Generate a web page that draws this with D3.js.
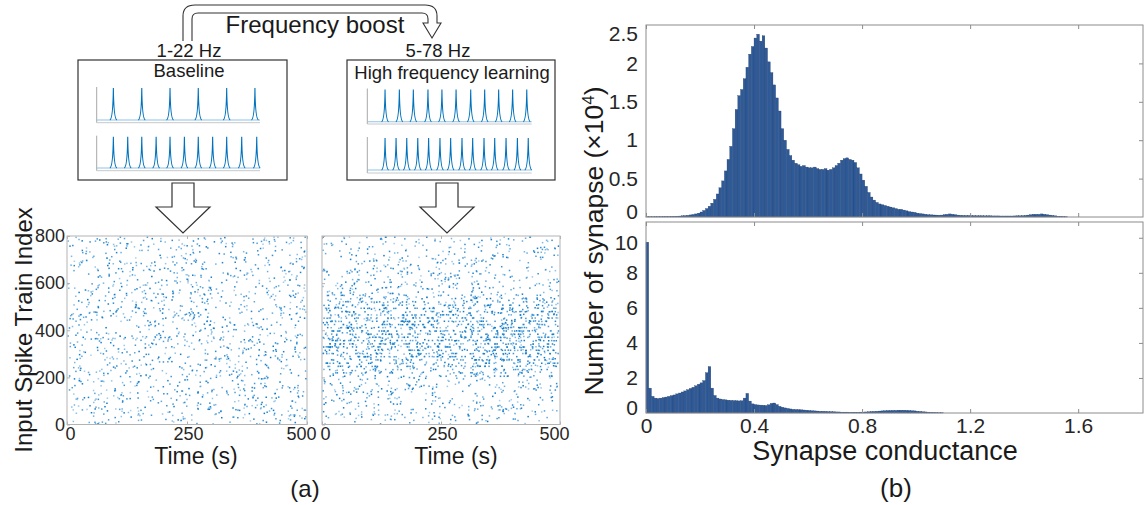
<!DOCTYPE html>
<html><head><meta charset="utf-8">
<script src="https://cdn.jsdelivr.net/npm/d3@7"></script>
<style>body{margin:0;background:#fff}svg{display:block}</style>
</head><body>
<svg id="c" width="1147" height="505"></svg>
<script>
// ---------------- DATA ----------------
// mini spike-train traces (spike times in ms within a 1000 ms window)
const baselineTopSpikes = [102, 276, 449, 622, 796, 969];
const baselineBottomSpikes = [102, 190, 276, 364, 449, 537, 622, 710, 796, 888, 980];
const highTopSpikes = [108, 195, 280, 369, 454, 540, 629, 714, 799, 884, 970];
const highBottomSpikes = [108, 175, 240, 307, 373, 442, 507, 576, 641, 710, 775, 844, 913, 979];

const baselineBandCounts = [165, 170, 180, 190, 195, 180, 170, 155];            // bands of 100 indices
const highFreqBandCounts = [75, 80, 85, 95, 95, 100, 105, 110, 110, 110, 105, 100, 95, 80, 75, 70]; // bands of 50
const highFreqHotRows = [205, 219, 233, 247, 260, 274, 288, 301, 315, 329, 342, 356, 370, 383, 397, 411, 424, 438, 452, 465, 479, 493, 506, 520, 534, 548];
const highFreqHotRowSpikes = [18, 22, 26, 30, 34, 36, 40, 42, 44, 46, 46, 46, 46, 46, 46, 44, 44, 42, 40, 38, 34, 30, 26, 22, 18, 14];
const rasterYTicks = [0, 200, 400, 600, 800];
const rasterXTicks = [0, 250, 500];

// histograms, bin width 0.01 starting at 0 (units x10^4)
const histBinWidth = 0.01;
const topCounts = [
 0.003,0.003,0.002,0.003,0.004,0.005,0.005,0.006,0.006,0.007,
 0.008,0.010,0.012,0.015,0.018,0.022,0.027,0.033,0.040,0.050,
 0.065,0.085,0.110,0.140,0.180,0.230,0.300,0.380,0.470,0.600,
 0.750,0.920,1.150,1.400,1.580,1.660,1.800,1.950,2.120,2.220,
 2.330,2.380,2.290,2.360,2.200,2.020,1.880,1.720,1.550,1.380,
 1.150,1.000,0.880,0.800,0.740,0.700,0.680,0.660,0.670,0.650,
 0.640,0.640,0.650,0.630,0.620,0.620,0.630,0.610,0.620,0.640,
 0.670,0.700,0.740,0.760,0.770,0.750,0.740,0.710,0.640,0.560,
 0.480,0.400,0.320,0.260,0.220,0.190,0.170,0.160,0.150,0.140,
 0.130,0.120,0.110,0.100,0.100,0.090,0.080,0.070,0.065,0.060,
 0.050,0.045,0.040,0.035,0.030,0.028,0.026,0.025,0.024,0.025,
 0.030,0.035,0.040,0.035,0.030,0.025,0.022,0.020,0.020,0.020,
 0.018,0.018,0.017,0.016,0.016,0.015,0.015,0.015,0.014,0.014,
 0.014,0.013,0.013,0.013,0.013,0.013,0.014,0.015,0.016,0.018,
 0.020,0.025,0.030,0.035,0.035,0.035,0.040,0.035,0.030,0.025,
 0.020,0.015,0.010,0.008,0.005,0.003
];
const bottomCounts = [
 9.75,1.42,0.95,0.85,0.83,0.85,0.88,0.91,0.95,0.99,
 1.03,1.09,1.14,1.20,1.26,1.33,1.40,1.47,1.55,1.64,
 1.72,1.85,2.30,2.65,1.42,1.00,0.85,0.80,0.77,0.75,
 0.73,0.72,0.71,0.70,0.69,0.70,0.85,1.12,0.68,0.52,
 0.48,0.46,0.45,0.44,0.43,0.47,0.55,0.57,0.48,0.38,
 0.33,0.29,0.26,0.23,0.21,0.20,0.19,0.18,0.17,0.16,
 0.14,0.13,0.12,0.11,0.10,0.10,0.09,0.08,0.08,0.07,
 0.06,0.06,0.05,0.05,0.05,0.04,0.04,0.04,0.04,0.05,
 0.05,0.06,0.07,0.08,0.09,0.10,0.11,0.12,0.13,0.14,
 0.14,0.15,0.15,0.16,0.16,0.16,0.15,0.14,0.13,0.12,
 0.10,0.09,0.07,0.06,0.05,0.04,0.03,0.02,0.01,0.01
];
const condTicks = [0, 0.4, 0.8, 1.2, 1.6];
const topYTicks = [0, 0.5, 1, 1.5, 2, 2.5];
const bottomYTicks = [0, 2, 4, 6, 8, 10];

// ---------------- DRAWING ----------------
const FONT = "'Liberation Sans', Arial, Helvetica, sans-serif";
const TXT = "#1a1a1a";
const svg = d3.select("#c").style("font-family", FONT);

// deterministic scatter of the individual raster dots (integer hash, fixed output)
function scatter(n, salt) {
  let h = Math.imul(n ^ 0x9e3779b9, 0x85ebca6b) ^ Math.imul(salt + 1, 0x27d4eb2f);
  h ^= h >>> 13; h = Math.imul(h, 0xc2b2ae35); h ^= h >>> 16;
  h = Math.imul(h ^ (h >>> 15), 0x2c1b3c6d); h ^= h >>> 12;
  return (h >>> 0) / 4294967296;
}

// ---- Frequency boost arrow ----
const arrow = d3.path();
arrow.moveTo(183, 41); arrow.lineTo(183, 16); arrow.quadraticCurveTo(183, 5, 195, 5);
arrow.lineTo(425, 5); arrow.quadraticCurveTo(437, 5, 437, 16); arrow.lineTo(437, 23);
arrow.lineTo(441, 23); arrow.lineTo(432, 38); arrow.lineTo(423, 23); arrow.lineTo(428, 23);
arrow.lineTo(428, 19); arrow.quadraticCurveTo(428, 13, 422, 13); arrow.lineTo(198, 13);
arrow.quadraticCurveTo(192, 13, 192, 19); arrow.lineTo(192, 41);
svg.append("path").attr("d", arrow.toString()).attr("fill", "#fff").attr("stroke", "#333").attr("stroke-width", 1.1);
svg.append("text").attr("x", 315).attr("y", 33).attr("text-anchor", "middle").attr("font-size", 24).attr("fill", TXT).text("Frequency boost");
svg.append("text").attr("x", 189).attr("y", 57).attr("text-anchor", "middle").attr("font-size", 18.5).attr("fill", TXT).text("1-22 Hz");
svg.append("text").attr("x", 438).attr("y", 57).attr("text-anchor", "middle").attr("font-size", 18.5).attr("fill", TXT).text("5-78 Hz");

// ---- boxes with mini spike trains ----
svg.append("rect").attr("x", 78).attr("y", 60).attr("width", 209).attr("height", 120).attr("fill", "none").attr("stroke", "#333").attr("stroke-width", 1.2);
svg.append("rect").attr("x", 347).attr("y", 60).attr("width", 208).attr("height", 120).attr("fill", "none").attr("stroke", "#333").attr("stroke-width", 1.2);
svg.append("text").attr("x", 189).attr("y", 77).attr("text-anchor", "middle").attr("font-size", 18.5).attr("fill", TXT).text("Baseline");
svg.append("text").attr("x", 452).attr("y", 79).attr("text-anchor", "middle").attr("font-size", 18.5).attr("fill", TXT).text("High frequency learning");

function miniTrace(spikes, x0, x1, top, base, axisY) {
  const x = d3.scaleLinear([0, 1000], [x0, x1]);
  const y = d3.scaleLinear([0, 1], [base, top]);
  const g = svg.append("g");
  g.append("line").attr("x1", x0).attr("x2", x0).attr("y1", top - 1).attr("y2", axisY).attr("stroke", "#a8a8a8").attr("stroke-width", 1);
  g.append("line").attr("x1", x0).attr("x2", x1).attr("y1", axisY).attr("y2", axisY).attr("stroke", "#c8c8c8").attr("stroke-width", 1);
  g.append("line").attr("x1", x0).attr("x2", x1).attr("y1", y(0)).attr("y2", y(0)).attr("stroke", "#8ec3ea").attr("stroke-width", 1.1);
  spikes.forEach(t => {
    const p = d3.path(), cx = x(t);
    p.moveTo(cx - 3.5, y(0));
    p.quadraticCurveTo(cx - 0.4, y(0) - 1, cx, y(1));
    p.quadraticCurveTo(cx + 0.4, y(0) - 1, cx + 3.5, y(0));
    g.append("path").attr("d", p.toString()).attr("fill", "none").attr("stroke", "#0072BD").attr("stroke-width", 1.1);
  });
}
miniTrace(baselineTopSpikes, 96.7, 260, 88, 120, 122.7);
miniTrace(baselineBottomSpikes, 96.7, 260, 136.7, 168, 170.7);
miniTrace(highTopSpikes, 367.3, 531.7, 89.5, 121.7, 124);
miniTrace(highBottomSpikes, 367.3, 531.7, 138, 170, 173);

// ---- hollow down arrows ----
function downArrow(cx) {
  const p = d3.path();
  p.moveTo(cx - 11, 183); p.lineTo(cx + 11, 183); p.lineTo(cx + 11, 207); p.lineTo(cx + 27, 207);
  p.lineTo(cx, 233); p.lineTo(cx - 27, 207); p.lineTo(cx - 11, 207); p.closePath();
  svg.append("path").attr("d", p.toString()).attr("fill", "#fff").attr("stroke", "#333").attr("stroke-width", 1.2);
}
downArrow(183); downArrow(447);

// ---- raster plots ----
function raster(x0, x1, bandCounts, bandSize, hotRows, hotCounts, seed) {
  const x = d3.scaleLinear([0, 500], [x0, x1]);
  const y = d3.scaleLinear([0, 800], [424.5, 236]);
  const g = svg.append("g");
  const dots = [];
  let n = seed;
  bandCounts.forEach((c, b) => {
    for (let j = 0; j < c; j++) {
      n++;
      dots.push({ t: 2 + scatter(n, 1) * 496, i: b * bandSize + scatter(n, 2) * bandSize, o: 0.35 + 0.65 * scatter(n, 3) });
    }
  });
  if (hotRows) hotRows.forEach((r, k) => {
    for (let j = 0; j < hotCounts[k]; j++) {
      n++;
      dots.push({ t: 2 + scatter(n, 1) * 496, i: r + (scatter(n, 2) - 0.5) * 1.5, o: 0.55 + 0.45 * scatter(n, 3) });
    }
  });
  g.selectAll("rect.d").data(dots).join("rect").attr("class", "d")
    .attr("x", d => x(d.t) - 0.75).attr("y", d => y(Math.min(795, Math.max(3, d.i))) - 0.75)
    .attr("width", 1.5).attr("height", 1.5).attr("fill", "#0a78c8").attr("fill-opacity", d => d.o);
  g.append("rect").attr("x", x0).attr("y", 236).attr("width", x1 - x0).attr("height", 188.5)
    .attr("fill", "none").attr("stroke", "#b3b3b3").attr("stroke-width", 1);
  const ax = g.append("g").attr("transform", `translate(0,${424.5})`)
    .call(d3.axisBottom(x).tickValues(rasterXTicks).tickSizeInner(-3).tickSizeOuter(0).tickPadding(3));
  ax.select(".domain").remove();
  ax.selectAll("line").attr("stroke", "#b3b3b3");
  ax.selectAll("text").attr("font-size", 18).attr("fill", "#262626").attr("font-family", FONT)
    .attr("dx", d => d === 500 ? -6 : (d === 0 ? 3 : 1));
  const axt = g.append("g").attr("transform", `translate(0,236)`)
    .call(d3.axisTop(x).tickValues(rasterXTicks).tickSizeInner(-3).tickSizeOuter(0).tickFormat(""));
  axt.select(".domain").remove(); axt.selectAll("line").attr("stroke", "#b3b3b3");
  return { g, x, y };
}
const left = raster(67, 307, baselineBandCounts, 100, null, null, 0);
const right = raster(322, 560, highFreqBandCounts, 50, highFreqHotRows, highFreqHotRowSpikes, 50000);
{
  const ay = svg.append("g").attr("transform", "translate(67,0)")
    .call(d3.axisLeft(left.y).tickValues(rasterYTicks).tickSizeInner(-3).tickSizeOuter(0).tickPadding(2));
  ay.select(".domain").remove(); ay.selectAll("line").attr("stroke", "#b3b3b3");
  ay.selectAll("text").attr("font-size", 18).attr("fill", "#262626").attr("font-family", FONT);
  const ay2 = svg.append("g").attr("transform", "translate(322,0)")
    .call(d3.axisLeft(right.y).tickValues(rasterYTicks).tickSizeInner(-3).tickSizeOuter(0).tickFormat(""));
  ay2.select(".domain").remove(); ay2.selectAll("line").attr("stroke", "#b3b3b3");
}
svg.append("text").attr("x", 196).attr("y", 464).attr("text-anchor", "middle").attr("font-size", 23).attr("fill", TXT).text("Time (s)");
svg.append("text").attr("x", 456).attr("y", 464).attr("text-anchor", "middle").attr("font-size", 23).attr("fill", TXT).text("Time (s)");
svg.append("text").attr("transform", "translate(32,330) rotate(-90)").attr("text-anchor", "middle").attr("font-size", 24).attr("fill", TXT).text("Input Spike Train Index");
svg.append("text").attr("x", 305).attr("y", 497).attr("text-anchor", "middle").attr("font-size", 24).attr("fill", TXT).text("(a)");

// ---- histograms ----
const xH = d3.scaleLinear([0, 1.84], [646, 1143]);
function hist(counts, y, yTicks, yTop, yBottom, showX, nudge) {
  const g = svg.append("g");
  g.selectAll("rect.b").data(counts).join("rect").attr("class", "b")
    .attr("x", (d, k) => xH(k * histBinWidth)).attr("width", (d, k) => xH((k + 1) * histBinWidth) - xH(k * histBinWidth))
    .attr("y", d => y(d)).attr("height", d => y(0) - y(d))
    .attr("fill", "#2f5a98").attr("stroke", "#1f3b68").attr("stroke-width", 0.3);
  g.append("rect").attr("x", 646).attr("y", yTop).attr("width", 1143 - 646).attr("height", yBottom - yTop)
    .attr("fill", "none").attr("stroke", "#8c8c8c").attr("stroke-width", 1);
  const ab = g.append("g").attr("transform", `translate(0,${yBottom})`)
    .call(d3.axisBottom(xH).tickValues(condTicks).tickSizeInner(-4).tickSizeOuter(0).tickPadding(5)
      .tickFormat(showX ? (d => d === 0 ? "0" : d3.format(".1f")(d)) : ""));
  ab.select(".domain").remove(); ab.selectAll("line").attr("stroke", "#8c8c8c");
  ab.selectAll("text").attr("font-size", 21).attr("fill", "#262626").attr("font-family", FONT);
  const at = g.append("g").attr("transform", `translate(0,${yTop})`)
    .call(d3.axisTop(xH).tickValues(condTicks).tickSizeInner(-4).tickSizeOuter(0).tickFormat(""));
  at.select(".domain").remove(); at.selectAll("line").attr("stroke", "#8c8c8c");
  const al = g.append("g").attr("transform", "translate(646,0)")
    .call(d3.axisLeft(y).tickValues(yTicks).tickSizeInner(0).tickSizeOuter(0).tickPadding(8)
      .tickFormat(d => String(d)));
  al.select(".domain").remove();
  al.selectAll("text").attr("font-size", 21).attr("fill", "#262626").attr("font-family", FONT)
    .attr("dy", (d, i) => (0.32 * 21 + nudge(d)) + "px");
  const ar = g.append("g").attr("transform", "translate(1143,0)")
    .call(d3.axisRight(y).tickValues(yTicks.filter(v => v > 0 && y(v) > yTop + 6)).tickSizeInner(-4).tickSizeOuter(0).tickFormat(""));
  ar.select(".domain").remove(); ar.selectAll("line").attr("stroke", "#8c8c8c");
}
const yTopH = d3.scaleLinear([0, 2.5], [217, 25]);
const yBotH = d3.scaleLinear([0, 10.9], [413, 222]);
hist(topCounts, yTopH, topYTicks, 25, 217, false, d => d === 2.5 ? 9 : (d === 0 ? -5 : 0));
hist(bottomCounts, yBotH, bottomYTicks, 222, 413, true, d => d === 10 ? 5 : (d === 0 ? -5 : 0));

const ylab = svg.append("text").attr("transform", "translate(603,241) rotate(-90)").attr("text-anchor", "middle")
  .attr("font-size", 26.5).attr("fill", TXT);
ylab.append("tspan").text("Number of synapse (×10");
ylab.append("tspan").attr("baseline-shift", "super").attr("font-size", 17).text("4");
ylab.append("tspan").text(")");
svg.append("text").attr("x", 885).attr("y", 460).attr("text-anchor", "middle").attr("font-size", 27).attr("fill", TXT).text("Synapse conductance");
svg.append("text").attr("x", 896).attr("y", 497).attr("text-anchor", "middle").attr("font-size", 26).attr("fill", TXT).text("(b)");
</script>
</body></html>
